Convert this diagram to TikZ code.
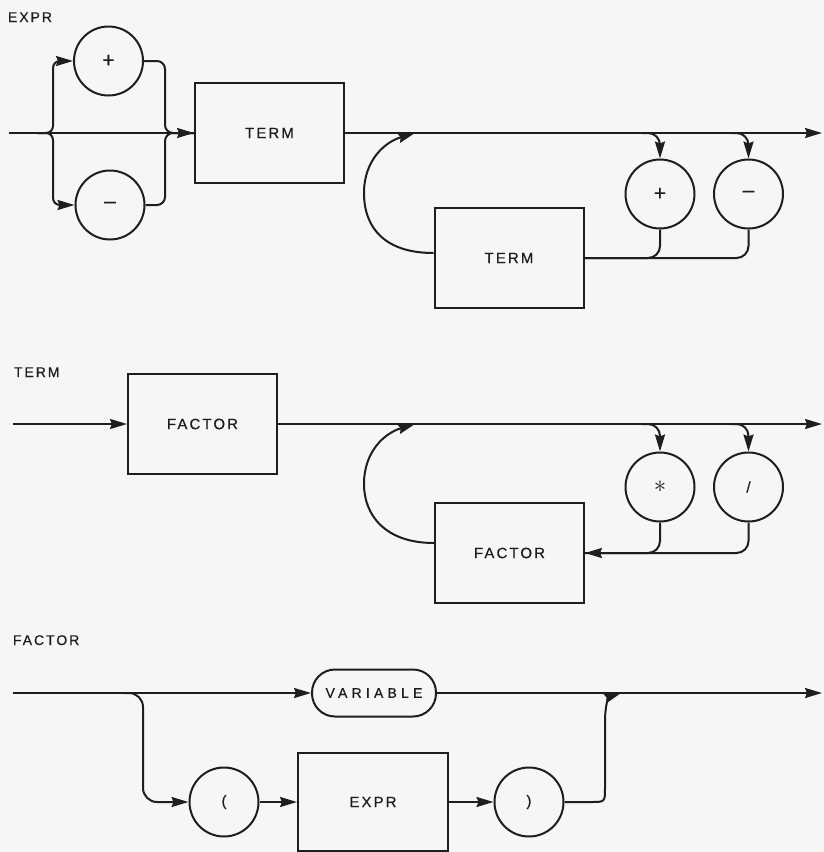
\documentclass[tikz,border=0pt]{standalone}
\usepackage{fontspec}
\setmainfont{Liberation Sans}[FakeBold=0.6]
\newfontfamily\lblfont[LetterSpace=14,FakeBold=0.6]{Liberation Sans}
\newfontfamily\varfont[LetterSpace=30,FakeBold=0.6]{Liberation Sans}
\usetikzlibrary{arrows.meta}
\definecolor{ink}{RGB}{30,30,30}
\definecolor{paper}{RGB}{246,246,244}
\begin{document}
\begin{tikzpicture}[x=1pt,y=-1pt, line width=2pt, draw=ink, color=ink,
  >={Stealth[length=17pt,width=10pt,inset=2pt]},
  boxnode/.style={draw, minimum width=149pt, minimum height=100pt, inner sep=0pt,
    font=\lblfont\fontsize{15}{15}\selectfont},
  termnode/.style={draw, circle, minimum size=69pt, inner sep=0pt,
    font=\fontsize{15}{15}\selectfont},
  varnode/.style={draw, rounded corners=23pt, minimum width=124pt, minimum height=47pt,
    inner sep=0pt, font=\varfont\fontsize{14}{14}\selectfont},
  titlenode/.style={anchor=base west, inner sep=0pt,
    font=\lblfont\fontsize{14}{14}\selectfont},
  signnode/.style={termnode, font=\fontsize{21}{21}\selectfont},
  ]
\fill[paper] (0,0) rectangle (824,852);
\useasboundingbox (0,0) rectangle (824,852);

% ---------------- EXPR ----------------
\node[titlenode] (lexpr) at (7,22) {EXPR};
\node[signnode] (p1) at (108.5,61) {+};
\node[signnode] (m1) at (110,205) {–};
\node[boxnode] (t1) at (269.5,133) {TERM};
\node[boxnode] (t2) at (509,258) {TERM};
\node[signnode] (p2) at (660,194) {+};
\node[signnode] (m2) at (748.5,194) {–};
\coordinate (s1) at (9,133);
\coordinate (b1) at (38,133);
\coordinate (e1) at (822,133);
\coordinate (lp1) at (415,133);
\coordinate (c1) at (642,133);
\coordinate (c2) at (731,133);

\draw[->] (s1) -- (t1.west);
\draw[->, rounded corners=7pt] (b1) -| (53,61) -- (p1.west);
\draw[->, rounded corners=7pt] (b1) -| (53,205) -- (m1.west);
\draw[rounded corners=8pt] (p1.east) -| (165,133) -- (t1.west);
\draw[rounded corners=8pt] (m1.east) -| (165,133) -- (t1.west);
\draw[->] (t1.east) -- (e1);
\draw[->] ([yshift=5pt]t2.west) .. controls (385,253) and (364,228) .. (364,193)
  .. controls (364,160) and (385,142) .. (lp1);
\draw[->, rounded corners=12pt] (c1) -| (p2.north);
\draw[->, rounded corners=12pt] (c2) -| (m2.north);
\draw[rounded corners=12pt] (p2.south) |- (t2.east);
\draw[rounded corners=12pt] (m2.south) |- (t2.east);

% ---------------- TERM ----------------
\node[titlenode] (lterm) at (13,377) {TERM};
\node[boxnode] (f1) at (202.5,424) {FACTOR};
\node[boxnode] (f2) at (509.5,553) {FACTOR};
\node[termnode] (st) at (660,487) {\fontsize{24}{24}\selectfont$\ast$};
\node[termnode] (sl) at (748.5,487) {/};
\coordinate (s2) at (13,424);
\coordinate (e2) at (822,424);
\coordinate (lp2) at (415,424);
\coordinate (c3) at (642,424);
\coordinate (c4) at (731,424);

\draw[->] (s2) -- (f1.west);
\draw[->] (f1.east) -- (e2);
\draw[->] ([yshift=10pt]f2.west) .. controls (385,543) and (364,515) .. (364,484)
  .. controls (364,451) and (385,433) .. (lp2);
\draw[->, rounded corners=12pt] (c3) -| (st.north);
\draw[->, rounded corners=12pt] (c4) -| (sl.north);
\draw[rounded corners=12pt] (st.south) |- (f2.east);
\draw[->, rounded corners=12pt] (sl.south) |- (f2.east);

% ---------------- FACTOR ----------------
\node[titlenode] (lfactor) at (12,645) {FACTOR};
\node[varnode] (var) at (374,693) {VARIABLE};
\node[termnode] (lpar) at (224,802) {(};
\node[boxnode, minimum width=150pt, minimum height=98pt] (ex) at (373,802) {EXPR};
\node[termnode] (rpar) at (529,802) {)};
\coordinate (s3) at (13,693);
\coordinate (e3) at (822,693);
\coordinate (b3) at (125,693);
\coordinate (j3) at (621,693);

\draw[->] (s3) -- (var.west);
\draw[->] (var.east) -- (e3);
\draw[->, rounded corners=14pt] (b3) -| (143,802) -- (lpar.west);
\draw[->] (lpar.east) -- (ex.west);
\draw[->] (ex.east) -- (rpar.west);
\draw[->] (rpar.east) -- (591,802) .. controls (605,802) .. (605,788) -- (605,722)
  .. controls (605,704) and (609,697) .. (j3);
\end{tikzpicture}
\end{document}
